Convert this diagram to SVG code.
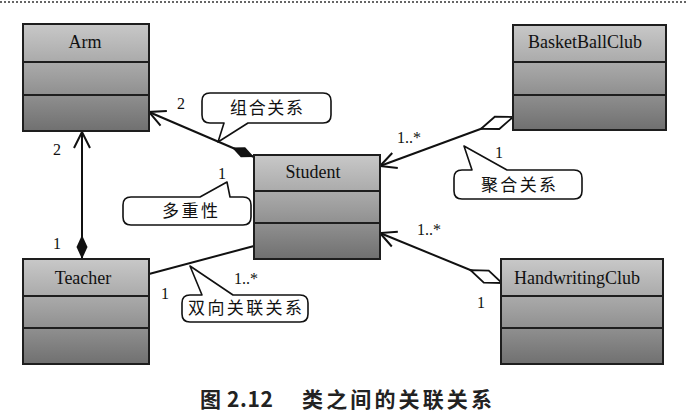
<svg xmlns="http://www.w3.org/2000/svg" width="688" height="420" viewBox="0 0 688 420">
<style>
.box{stroke:#1e1e1e;stroke-width:2;fill:url(#g)}
.div{stroke:#1e1e1e;stroke-width:2}
.name{font-family:"Liberation Serif","Times New Roman",serif;font-size:18px;fill:#111;text-anchor:middle}
.mult{font-family:"Liberation Serif","Times New Roman",serif;font-size:16px;fill:#111}
.conn{stroke:#111;stroke-width:2;fill:none}
.bubble{fill:#fff;stroke:#111;stroke-width:1.6;stroke-linejoin:round}
.note{font-family:"Noto Sans CJK SC","Noto Sans",sans-serif;font-size:17px;fill:#111}
.cap{font-family:"Noto Sans CJK SC","Noto Sans",sans-serif;font-size:21px;font-weight:bold;fill:#222}
</style>
<defs>
<linearGradient id="g" x1="0" y1="0" x2="0" y2="1">
<stop offset="0" stop-color="#c8c8c8"/>
<stop offset="0.5" stop-color="#9e9e9e"/>
<stop offset="1" stop-color="#707070"/>
</linearGradient>
<marker id="open" viewBox="0 0 20 20" refX="18" refY="10" markerWidth="20" markerHeight="20" markerUnits="userSpaceOnUse" orient="auto-start-reverse">
<path d="M2,2 L18,10 L2,18" fill="none" stroke="#111" stroke-width="2"/>
</marker>
<marker id="filled" viewBox="0 0 24 12" refX="24" refY="6" markerWidth="24" markerHeight="12" markerUnits="userSpaceOnUse" orient="auto">
<path d="M0,6 L12,0.5 L24,6 L12,11.5 Z" fill="#111"/>
</marker>
<marker id="hollow" viewBox="0 0 36 16" refX="35" refY="8" markerWidth="36" markerHeight="16" markerUnits="userSpaceOnUse" orient="auto">
<path d="M1,8 L18,1.5 L35,8 L18,14.5 Z" fill="#fff" stroke="#111" stroke-width="1.8"/>
</marker>
</defs>
<rect width="688" height="420" fill="#fff"/>
<line x1="0" y1="2" x2="688" y2="2" stroke="#666" stroke-width="2" stroke-dasharray="2 2"/>

<g id="connectors">
<path class="conn" d="M149,112 L254,157" marker-start="url(#open)" marker-end="url(#filled)"/>
<path class="conn" d="M82,132 L82,259" marker-start="url(#open)" marker-end="url(#filled)"/>
<path class="conn" d="M149,274 L254,246"/>
<path class="conn" d="M380,166 L513,117" marker-start="url(#open)" marker-end="url(#hollow)"/>
<path class="conn" d="M380,233 L502,283" marker-start="url(#open)" marker-end="url(#hollow)"/>
<text class="mult" x="177" y="109">2</text>
<text class="mult" x="53" y="155">2</text>
<text class="mult" x="53" y="249">1</text>
<text class="mult" x="218" y="179">1</text>
<text class="mult" x="397" y="143">1..*</text>
<text class="mult" x="495" y="158">1</text>
<text class="mult" x="161" y="299">1</text>
<text class="mult" x="234" y="284">1..*</text>
<text class="mult" x="417" y="235">1..*</text>
<text class="mult" x="477" y="308">1</text>
</g>

<g id="Arm">
<rect class="box" x="23" y="24" width="126" height="107"/>
<line class="div" x1="23" y1="62" x2="149" y2="62"/>
<line class="div" x1="23" y1="95" x2="149" y2="95"/>
<text class="name" x="85" y="48">Arm</text>
</g>
<g id="BasketBallClub">
<rect class="box" x="513" y="25" width="153" height="105"/>
<line class="div" x1="513" y1="62" x2="666" y2="62"/>
<line class="div" x1="513" y1="95" x2="666" y2="95"/>
<text class="name" x="585" y="48">BasketBallClub</text>
</g>
<g id="Student">
<rect class="box" x="254" y="155" width="126" height="104"/>
<line class="div" x1="254" y1="191" x2="380" y2="191"/>
<line class="div" x1="254" y1="223" x2="380" y2="223"/>
<text class="name" x="313" y="178">Student</text>
</g>
<g id="Teacher">
<rect class="box" x="23" y="259" width="126" height="105"/>
<line class="div" x1="23" y1="296" x2="149" y2="296"/>
<line class="div" x1="23" y1="328" x2="149" y2="328"/>
<text class="name" x="83" y="284">Teacher</text>
</g>
<g id="HandwritingClub">
<rect class="box" x="501" y="259" width="162" height="105"/>
<line class="div" x1="501" y1="296" x2="663" y2="296"/>
<line class="div" x1="501" y1="328" x2="663" y2="328"/>
<text class="name" x="577" y="284">HandwritingClub</text>
</g>

<g id="note-composition">
<path class="bubble" d="M210,93 H323 Q331,93 331,101 V115 Q331,123 323,123 H248 L218,142 L224,123 H210 Q202,123 202,115 V101 Q202,93 210,93 Z"/>
<text class="note" x="230" y="114" textLength="73" lengthAdjust="spacing">组合关系</text>
</g>
<g id="note-multiplicity">
<path class="bubble" d="M131,197 H200 L227,182 L230,197 H243 Q251,197 251,205 V217 Q251,225 243,225 H131 Q123,225 123,217 V205 Q123,197 131,197 Z"/>
<text class="note" x="162" y="217" textLength="56" lengthAdjust="spacing">多重性</text>
</g>
<g id="note-aggregation">
<path class="bubble" d="M462,170 H472 L464,146 L507,170 H574 Q582,170 582,178 V191 Q582,199 574,199 H462 Q454,199 454,191 V178 Q454,170 462,170 Z"/>
<text class="note" x="481" y="191" textLength="75" lengthAdjust="spacing">聚合关系</text>
</g>
<g id="note-association">
<path class="bubble" d="M190,295 H202 L190,266 L233,295 H300 Q308,295 308,303 V314 Q308,322 300,322 H190 Q182,322 182,314 V303 Q182,295 190,295 Z"/>
<text class="note" x="188" y="314" textLength="114" lengthAdjust="spacing">双向关联关系</text>
</g>

<g id="caption">
<text class="cap" x="200" y="407" textLength="73" lengthAdjust="spacing">图 2.12</text>
<text class="cap" x="302" y="407" textLength="190" lengthAdjust="spacing">类之间的关联关系</text>
</g>
</svg>
